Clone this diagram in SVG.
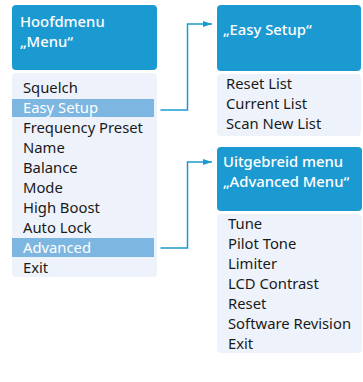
<svg xmlns="http://www.w3.org/2000/svg" width="363" height="382" viewBox="0 0 363 382">
<defs>
<style>
.hdr{fill:#1b9ad2}
.lst{fill:#eef3fb}
.hl{fill:#7db6e0}
.ht{font-family:"Noto Sans","DejaVu Sans",sans-serif;font-size:14.8px;fill:#ffffff;font-weight:500}
.it{font-family:"Noto Sans","DejaVu Sans",sans-serif;font-size:14.8px;fill:#1a1a1a}
.itw{font-family:"Noto Sans","DejaVu Sans",sans-serif;font-size:14.8px;fill:#ffffff}
.con{fill:none;stroke:#1b9ad2;stroke-width:1.5}
</style>
<marker id="arr" markerWidth="10" markerHeight="8" refX="9" refY="4" orient="auto" markerUnits="userSpaceOnUse">
<path d="M0,1 L9,4 L0,7 Z" fill="#1b9ad2"/>
</marker>
</defs>
<rect width="363" height="382" fill="#ffffff"/>
<g id="main-menu">
<rect class="hdr" x="12" y="5" width="145" height="65" rx="4"/>
<text class="ht" x="20" y="27">Hoofdmenu</text>
<text class="ht" x="20" y="47">„Menu“</text>
<rect class="lst" x="12" y="73" width="145" height="204" rx="4"/>
<rect class="hl" x="12" y="99" width="142" height="18"/>
<rect class="hl" x="12" y="238" width="142" height="19"/>
<text class="it" x="23" y="93">Squelch</text>
<text class="itw" x="23" y="113">Easy Setup</text>
<text class="it" x="23" y="133">Frequency Preset</text>
<text class="it" x="23" y="153">Name</text>
<text class="it" x="23" y="173">Balance</text>
<text class="it" x="23" y="193">Mode</text>
<text class="it" x="23" y="213">High Boost</text>
<text class="it" x="23" y="233">Auto Lock</text>
<text class="itw" x="23" y="253">Advanced</text>
<text class="it" x="23" y="273">Exit</text>
</g>
<g id="easy-setup">
<rect class="hdr" x="217" y="5" width="144" height="66" rx="4"/>
<text class="ht" x="223" y="35">„Easy Setup“</text>
<rect class="lst" x="217" y="74" width="144" height="62" rx="4"/>
<text class="it" x="226" y="89">Reset List</text>
<text class="it" x="226" y="109">Current List</text>
<text class="it" x="226" y="129">Scan New List</text>
</g>
<g id="advanced-menu">
<rect class="hdr" x="217" y="147" width="145" height="64" rx="4"/>
<text class="ht" x="223" y="167">Uitgebreid menu</text>
<text class="ht" x="223" y="187">„Advanced Menu“</text>
<rect class="lst" x="217" y="214" width="145" height="139" rx="4"/>
<text class="it" x="228" y="229">Tune</text>
<text class="it" x="228" y="249">Pilot Tone</text>
<text class="it" x="228" y="269">Limiter</text>
<text class="it" x="228" y="289">LCD Contrast</text>
<text class="it" x="228" y="309">Reset</text>
<text class="it" x="228" y="329">Software Revision</text>
<text class="it" x="228" y="349">Exit</text>
</g>
<g id="connectors">
<path class="con" d="M160.5,110 H187.5 V24 H212" marker-end="url(#arr)"/>
<path class="con" d="M160.5,248 H187.5 V162 H212" marker-end="url(#arr)"/>
</g>
</svg>
